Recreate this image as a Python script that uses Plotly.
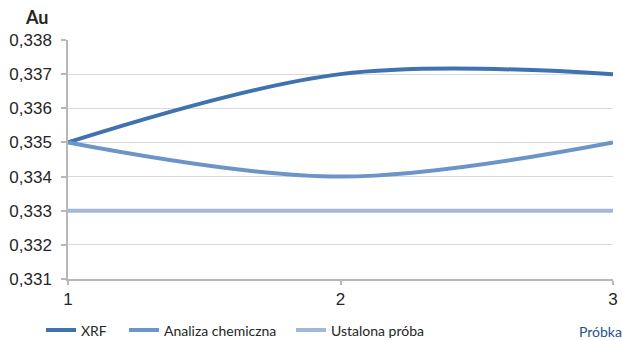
import plotly.graph_objects as go

# Sample numbers on the x axis
samples = [1, 2, 3]

# Au content per method
xrf = [0.335, 0.337, 0.337]
analiza = [0.335, 0.334, 0.335]
ustalona = [0.333, 0.333, 0.333]

y_ticks = [0.331, 0.332, 0.333, 0.334, 0.335, 0.336, 0.337, 0.338]
y_tick_text = ["0,331", "0,332", "0,333", "0,334", "0,335", "0,336", "0,337", "0,338"]

series = [
    ("XRF", xrf, "#3F72AF", "legend"),
    ("Analiza chemiczna", analiza, "#6B94C9", "legend2"),
    ("Ustalona próba", ustalona, "#A5B9D7", "legend3"),
]

fig = go.Figure()
for name, vals, color, leg in series:
    fig.add_trace(go.Scatter(
        x=samples, y=vals, name=name, mode="lines", legend=leg,
        line=dict(color=color, width=4, shape="spline", smoothing=1.0),
    ))

legend_font = dict(family="Lato, sans-serif", size=14, color="#262626")


def legend_at(px):
    return dict(
        orientation="h", xref="container", yref="container",
        x=px / 622, y=0.028, xanchor="left", yanchor="middle",
        font=legend_font, bgcolor="rgba(0,0,0,0)",
    )


axis_gray = "#B7B7B7"
fig.update_layout(
    width=622, height=340,
    margin=dict(l=68, r=9, t=40, b=61, autoexpand=False),
    paper_bgcolor="white", plot_bgcolor="white",
    font=dict(family="Liberation Sans, Arial, sans-serif", size=17, color="#262626"),
    showlegend=True,
    legend=legend_at(41),
    legend2=legend_at(124),
    legend3=legend_at(291),
    xaxis=dict(
        range=[1, 3], tickvals=samples, ticktext=[str(s) for s in samples],
        showgrid=False, zeroline=False,
        showline=True, linecolor=axis_gray, linewidth=1.5,
        ticks="outside", ticklen=4, tickcolor=axis_gray, tickwidth=1.5,
    ),
    yaxis=dict(
        range=[0.331, 0.338], tickvals=y_ticks, ticktext=y_tick_text,
        showgrid=True, gridcolor="#D9D9D9", gridwidth=1, zeroline=False,
        showline=True, linecolor=axis_gray, linewidth=1.5,
        ticks="outside", ticklen=5, tickcolor=axis_gray, tickwidth=1.5,
        ticklabelstandoff=6,
    ),
    annotations=[
        dict(text="<b>Au</b>", xref="paper", yref="paper", x=-0.0578, y=1.0,
             xanchor="center", yanchor="middle", yshift=23, showarrow=False,
             font=dict(family="Lato, sans-serif", size=18, color="#262626")),
        dict(text="Próbka", xref="paper", yref="paper", x=1.02, y=-0.2176,
             xanchor="right", yanchor="middle", showarrow=False,
             font=dict(family="Lato, sans-serif", size=14, color="#24508C")),
    ],
)

fig.write_html("out.html")
